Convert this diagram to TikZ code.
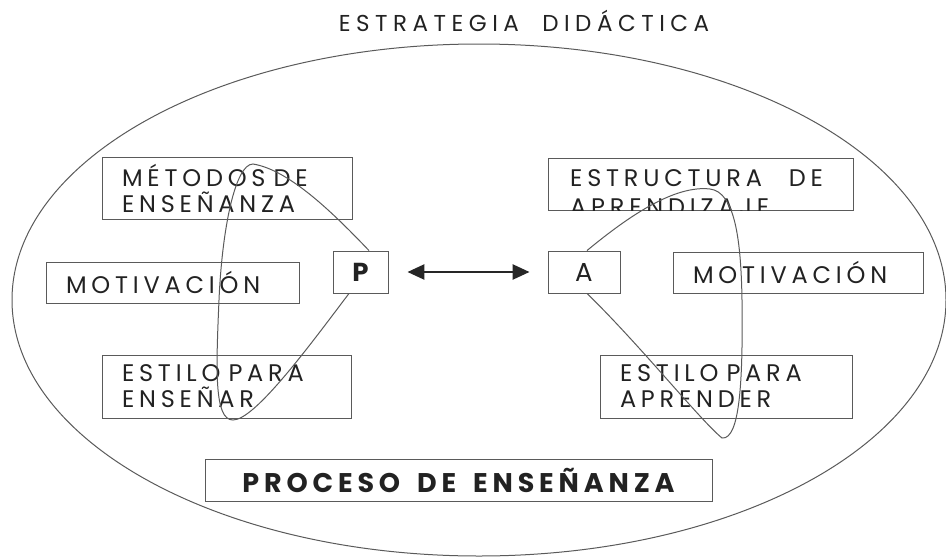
\documentclass[tikz,border=0pt]{standalone}
\usepackage{fontspec}
\setmainfont{Poppins}[LetterSpace=20,WordSpace=2.4]
\newfontfamily\titlefont{Poppins}[LetterSpace=24,WordSpace=2]
\newfontfamily\heavyfont{Poppins}[LetterSpace=18,WordSpace=1.6]
\usetikzlibrary{arrows.meta,calc}
\definecolor{ln}{HTML}{5A5A5A}
\definecolor{tx}{HTML}{222222}
\begin{document}
\begin{tikzpicture}[x=1pt,y=-1pt,
  box/.style={draw=ln,line width=0.9pt,inner xsep=20pt,inner ysep=0pt,align=left,text=tx,
    font=\fontsize{24}{26}\selectfont},
  loopline/.style={draw=ln,line width=1pt}]
\useasboundingbox (0,0) rectangle (946,557);
% big ellipse
\draw[ln,line width=1pt] (479,300) ellipse [x radius=467pt, y radius=256pt];
% title
\node[text=tx,font=\fontsize{23}{24}\titlefont,inner sep=0pt] (title) at (524,21) {ESTRATEGIA DIDÁCTICA};
% left boxes
\node[box,minimum width=250pt,minimum height=62pt,text width=210pt] (met) at (227,188) {MÉTODOS DE\\ENSEÑANZA};
\node[box,minimum width=253pt,minimum height=41pt,text width=213pt] (motL) at (172.5,282.5) {MOTIVACIÓN};
\node[box,minimum width=55pt,minimum height=42pt,inner xsep=0pt,align=center,font=\fontsize{26}{26}\selectfont\bfseries] (P) at (360.5,272) {P};
\node[box,minimum width=249pt,minimum height=63pt,text width=209pt] (estE) at (226.5,386.5) {ESTILO PARA\\ENSEÑAR};
% right boxes
\node[box,minimum width=305pt,minimum height=52pt] (estr) at (700.5,184) {};
\begin{scope}
\clip (estr.south west) rectangle (estr.north east);
\node[text=tx,font=\fontsize{24}{26}\selectfont,anchor=base west,inner sep=0pt] (estrtxt1) at (570,186) {ESTRUCTURA DE};
\node[text=tx,font=\fontsize{24}{26}\selectfont,anchor=base west,inner sep=0pt] (estrtxt2) at (570,215) {APRENDIZAJE};
\end{scope}
\node[box,minimum width=72pt,minimum height=42pt,inner xsep=0pt,align=center,font=\fontsize{26}{26}\selectfont] (A) at (584,272) {A};
\node[box,minimum width=250pt,minimum height=41pt,text width=210pt] (motR) at (798,272.5) {MOTIVACIÓN};
\node[box,minimum width=252pt,minimum height=63pt,text width=212pt] (estA) at (726,386.5) {ESTILO PARA\\APRENDER};
% bottom box
\node[box,minimum width=507pt,minimum height=42pt,inner xsep=0pt,align=center,font=\fontsize{27}{28}\heavyfont\bfseries] (proc) at (458.5,480) {PROCESO DE ENSEÑANZA};
% arrow
\draw[{Triangle[length=17pt,width=15pt]}-{Triangle[length=17pt,width=15pt]},line width=2.6pt,black!85,shorten <=19pt,shorten >=18pt] (P.east) -- (A.west);
% loops
\coordinate (pl1) at ($(P.north)+(8.5,0)$);
\coordinate (pl2) at ($(P.south)+(-11.5,0)$);
\draw[loopline] (pl1) .. controls (335,215) and (290,170) .. (253,164)
  .. controls (235,164) and (222,230) .. (219,300)
  .. controls (216,370) and (214,420) .. (233,420)
  .. controls (255,420) and (310,345) .. (pl2);
\coordinate (al1) at ($(A.north)+(3,0)$);
\coordinate (al2) at ($(A.south)+(3,0)$);
\draw[loopline] (al1) .. controls (630,215) and (675,185) .. (710,189)
  .. controls (735,192) and (741,240) .. (742,300)
  .. controls (743,380) and (740,440) .. (722,438)
  .. controls (700,420) and (640,345) .. (al2);
\end{tikzpicture}
\end{document}
